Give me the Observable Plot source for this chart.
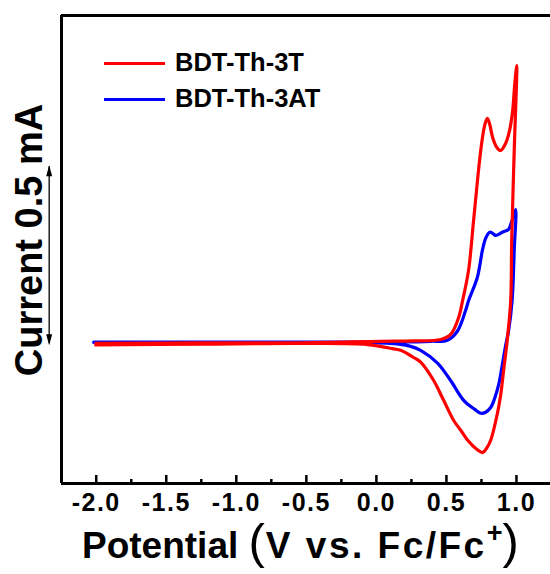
<!DOCTYPE html>
<html><head><meta charset="utf-8">
<script src="https://cdn.jsdelivr.net/npm/d3@7"></script>
<script src="https://cdn.jsdelivr.net/npm/@observablehq/plot@0.6"></script>
<style>
body{margin:0;background:#fff;}
#wrap{position:relative;width:550px;height:574px;font-family:"Liberation Sans",Arial,sans-serif;font-weight:bold;color:#000;}
#wrap svg{position:absolute;left:0;top:0;}
#wrap svg g[aria-label="x-axis tick label"] text{letter-spacing:1.5px;}
.legend-row{position:absolute;left:104px;height:36px;display:flex;align-items:center;}
.legend-row .sw{width:61px;height:0;border-top:3px solid;margin-right:10px;}
.legend-row .lb{font-size:25.5px;line-height:1;white-space:nowrap;}
#ytitle{position:absolute;left:29px;top:240px;transform:translate(-50%,-50%) rotate(-90deg);font-size:38px;line-height:1;white-space:nowrap;}
#xtitle{position:absolute;left:82px;top:517px;font-size:37px;line-height:1;white-space:nowrap;}
#xtitle .inner{letter-spacing:2.5px;}
#xtitle .paren{font-size:49px;font-weight:normal;line-height:1;letter-spacing:1px;}
#xtitle sup{font-size:27px;line-height:1;vertical-align:16px;letter-spacing:0;}
</style></head><body><div id="wrap"></div><script>
// Tick values (V vs. Fc/Fc+)
const majorTicks = [-2.0, -1.5, -1.0, -0.5, 0.0, 0.5, 1.0];
const minorTicks = [-1.75, -1.25, -0.75, -0.25, 0.25, 0.75];

// Series names and colours
const seriesNames = ["BDT-Th-3T", "BDT-Th-3AT"];
const seriesColors = ["#ff0000", "#0000ff"];

// BDT-Th-3T cyclic voltammogram: potential (V) and current (mA), forward then reverse scan
const redV = [-2.004,-1.254,-0.540,0.031,0.266,0.459,0.530,0.587,0.616,0.658,0.694,0.745,0.773,0.792,0.809,0.830,0.859,0.887,0.923,0.951,0.973,0.987,1.002,
  0.984,0.966,0.959,0.934,0.911,0.887,0.864,0.816,0.787,0.757,0.716,0.652,0.602,0.552,0.480,0.409,0.316,0.266,0.173,0.123,-0.062,-0.540,-1.254,-2.004];
const redI = [-0.003,-0.001,-0.001,0.003,0.004,0.008,0.022,0.069,0.117,0.200,0.339,0.533,0.603,0.622,0.606,0.569,0.542,0.533,0.553,0.589,0.644,0.714,0.769,
  0.533,0.283,0.117,0.006,-0.069,-0.147,-0.197,-0.272,-0.294,-0.306,-0.297,-0.272,-0.244,-0.217,-0.161,-0.106,-0.055,-0.042,-0.022,-0.018,-0.006,-0.003,-0.005,-0.007];

// BDT-Th-3AT cyclic voltammogram
const blueV = [-2.018,-1.254,-0.540,0.173,0.388,0.507,0.578,0.637,0.659,0.721,0.757,0.780,0.809,0.830,0.852,0.899,0.944,0.959,0.973,0.994,
  0.984,0.969,0.944,0.923,0.898,0.875,0.844,0.816,0.780,0.745,0.702,0.623,0.530,0.438,0.316,0.245,0.102,-0.540,-1.254,-2.018];
const blueI = [0.001,0.001,0.001,0.001,0.003,0.006,0.031,0.089,0.117,0.181,0.256,0.289,0.306,0.303,0.297,0.306,0.314,0.328,0.344,0.369,
  0.256,0.117,0.033,-0.008,-0.064,-0.114,-0.156,-0.181,-0.194,-0.197,-0.186,-0.161,-0.106,-0.058,-0.022,-0.011,-0.003,0.0,0.0,0.0];

// Scale bar: 0.5 mA
const scaleBarStart = -0.008;
const scaleBarLength = 0.5;

const redData = redV.map((v, i) => ({V: v, I: redI[i], s: seriesNames[0]}));
const blueData = blueV.map((v, i) => ({V: v, I: blueI[i], s: seriesNames[1]}));

const xDomain = [-2.248, 1.243];
const yDomain = [-0.392, 0.908];
const W = 550, H = 574, mT = 15, mB = 91, mL = 61, mR = 0;
const innerH = H - mT - mB;
const barX = -2.336;

const headUp = {draw(ctx) { ctx.moveTo(0, 0); ctx.lineTo(3, 11); ctx.lineTo(-3, 11); ctx.closePath(); }};

const chart = Plot.plot({
  width: W, height: H,
  marginTop: mT, marginBottom: mB, marginLeft: mL, marginRight: mR,
  style: {fontFamily: "'Liberation Sans', Arial, sans-serif", fontWeight: "bold", background: "transparent"},
  x: {domain: xDomain},
  y: {domain: yDomain, axis: null},
  marks: [
    Plot.axisX({ticks: majorTicks, tickSize: 0, tickPadding: 10, tickFormat: d => d.toFixed(1), fontSize: 25, fontWeight: "bold", fill: "#000", label: null}),
    Plot.tickX(majorTicks, {x: d => d, insetTop: innerH - 8, stroke: "#000", strokeWidth: 2.5}),
    Plot.tickX(minorTicks, {x: d => d, insetTop: innerH - 4, stroke: "#000", strokeWidth: 2.5}),
    Plot.ruleY([yDomain[1]], {stroke: "#000", strokeWidth: 3}),
    Plot.ruleY([yDomain[0]], {stroke: "#000", strokeWidth: 3}),
    Plot.ruleX([xDomain[0]], {stroke: "#000", strokeWidth: 3}),
    Plot.line(blueData, {x: "V", y: "I", stroke: seriesColors[1], strokeWidth: 3.2, curve: "catmull-rom"}),
    Plot.line(redData, {x: "V", y: "I", stroke: seriesColors[0], strokeWidth: 3.2, curve: "catmull-rom"}),
    Plot.ruleX([barX], {y1: scaleBarStart + 0.004, y2: scaleBarStart + scaleBarLength - 0.004, stroke: "#000", strokeWidth: 1.3}),
    Plot.dot([barX], {x: d => d, y: scaleBarStart + scaleBarLength, symbol: headUp, fill: "#000", stroke: "none", r: 4}),
    Plot.dot([barX], {x: d => d, y: scaleBarStart, symbol: headUp, rotate: 180, fill: "#000", stroke: "none", r: 4})
  ]
});

const wrap = document.getElementById("wrap");
wrap.appendChild(chart);

const legendTops = [45, 81];
seriesNames.forEach((name, i) => {
  const row = document.createElement("div");
  row.className = "legend-row";
  row.style.top = legendTops[i] + "px";
  const sw = document.createElement("span");
  sw.className = "sw";
  sw.style.borderTopColor = seriesColors[i];
  const lb = document.createElement("span");
  lb.className = "lb";
  lb.textContent = name;
  row.appendChild(sw); row.appendChild(lb);
  wrap.appendChild(row);
});

const yt = document.createElement("div");
yt.id = "ytitle";
yt.textContent = "Current 0.5 mA";
wrap.appendChild(yt);

const xt = document.createElement("div");
xt.id = "xtitle";
xt.innerHTML = 'Potential <span class="paren">(</span><span class="inner">V vs. Fc/Fc</span><sup>+</sup><span class="paren">)</span>';
wrap.appendChild(xt);
</script></body></html>
